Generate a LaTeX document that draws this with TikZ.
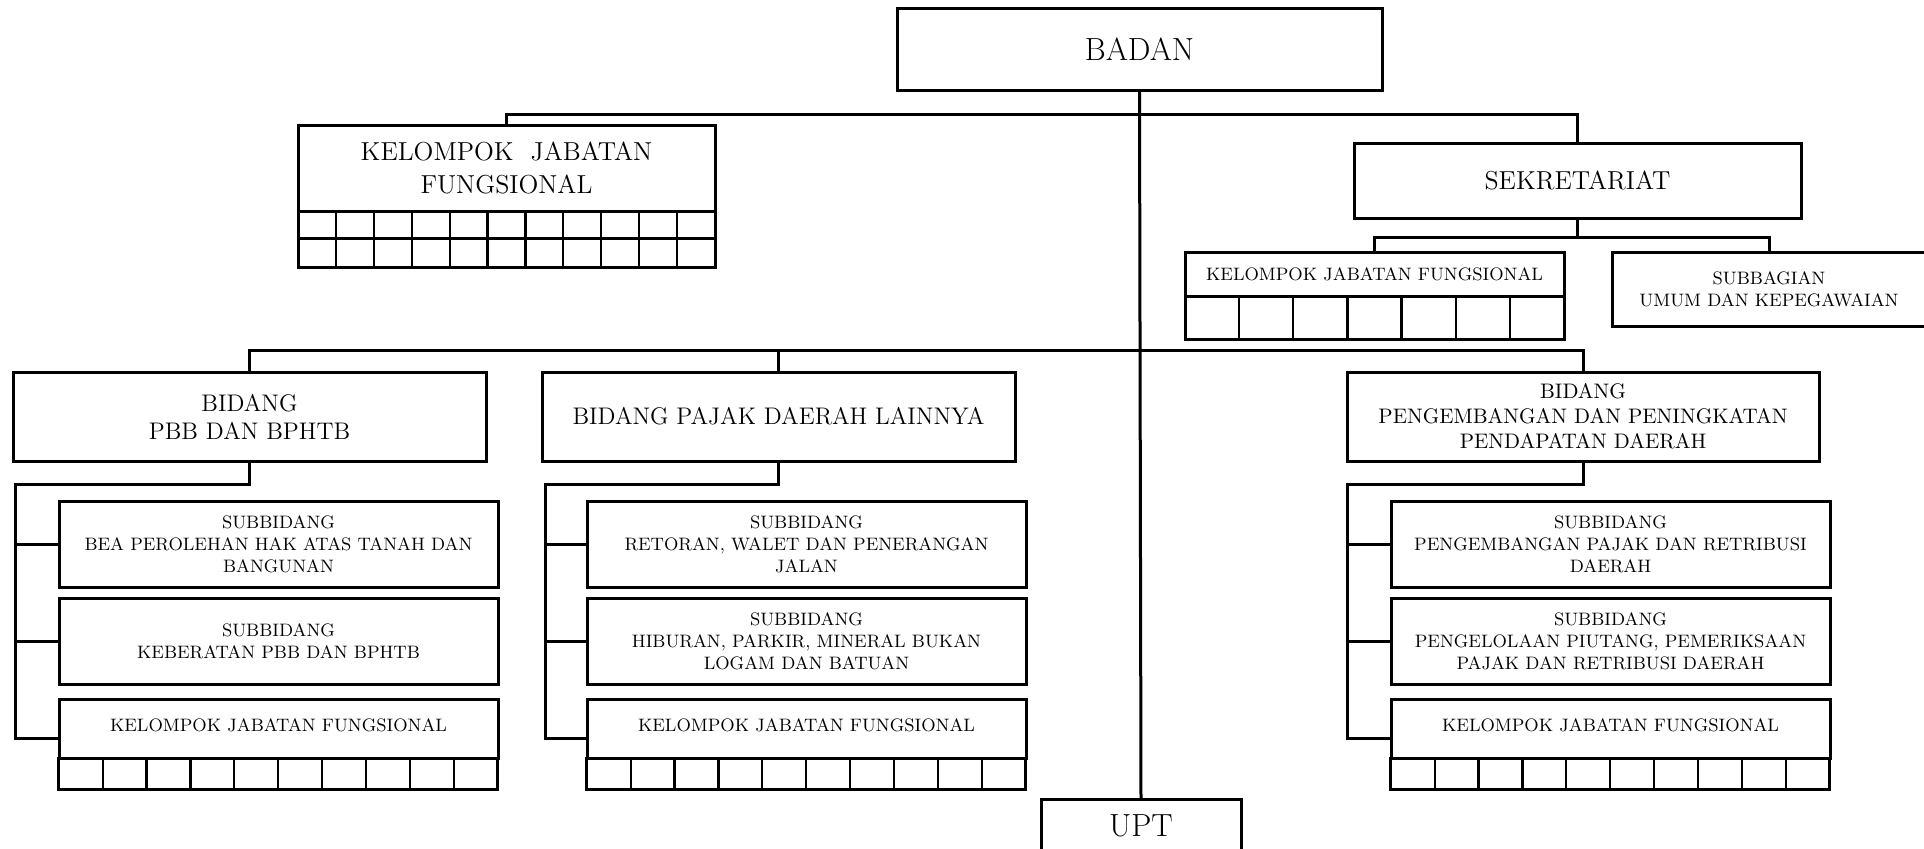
\documentclass[tikz,border=0pt]{standalone}
\usepackage{fontspec}
\usetikzlibrary{calc}
\newcommand\cellrow[5]{%
  \draw[framel] (#1,#2) rectangle ++(#3,#4);
  \foreach \k in {1,...,#5}{\draw[gridl] ({#1+\k*#3/#5},#2) -- ++(0,#4);}}
\begin{document}
\begin{tikzpicture}[x=0.5pt,y=-0.5pt,
  box/.style={draw,line width=1.5pt,inner sep=0pt,outer sep=0pt,align=center},
  conn/.style={line width=1.5pt},
  framel/.style={line width=1.5pt},
  gridl/.style={line width=1.1pt},
  fbig/.style={font=\fontsize{16}{19}\selectfont},
  fmid/.style={font=\fontsize{13}{16.5}\selectfont},
  fbid/.style={font=\fontsize{12}{14}\selectfont},
  fpeng/.style={font=\fontsize{10.5}{12.5}\selectfont},
  fsmall/.style={font=\fontsize{9}{11}\selectfont}]
\useasboundingbox (0,0) rectangle (1924,848);

% top level
\node[box,fbig,minimum width=242.5pt,minimum height=41pt] (badan) at (1139.5,49) {BADAN};
\node[box,fmid,minimum width=208.5pt,minimum height=43pt] (kjfa) at (506.5,168) {KELOMPOK\ \ JABATAN\\FUNGSIONAL};
\cellrow{298}{211}{417}{27}{11}
\cellrow{298}{238}{417}{29}{11}
\node[box,fmid,minimum width=223.5pt,minimum height=37.5pt] (sek) at (1577.5,180.5) {SEKRETARIAT};

% sekretariat children
\node[box,fsmall,minimum width=189.5pt,minimum height=22pt] (kjfb) at (1374.5,274) {KELOMPOK JABATAN FUNGSIONAL};
\cellrow{1185}{296}{379}{43}{7}
\node[box,fsmall,minimum width=157pt,minimum height=37pt] (subag) at (1769,289) {SUBBAGIAN\\UMUM DAN KEPEGAWAIAN};

% bidang
\node[box,fbid,minimum width=236.5pt,minimum height=44.5pt] (pbb) at (249.5,416.5) {BIDANG\\PBB DAN BPHTB};
\node[box,fbid,minimum width=236.5pt,minimum height=44.5pt] (pajak) at (778.5,416.5) {BIDANG PAJAK DAERAH LAINNYA};
\node[box,fpeng,minimum width=236pt,minimum height=44.5pt] (peng) at (1583,416.5) {BIDANG\\PENGEMBANGAN DAN PENINGKATAN\\PENDAPATAN DAERAH};

% subbidang PBB
\node[box,fsmall,minimum width=219.5pt,minimum height=43pt] (pbbs1) at (278.5,544) {SUBBIDANG\\BEA PEROLEHAN HAK ATAS TANAH DAN\\BANGUNAN};
\node[box,fsmall,minimum width=219.5pt,minimum height=43pt] (pbbs2) at (278.5,641) {SUBBIDANG\\KEBERATAN PBB DAN BPHTB};
\node[box,fsmall,minimum width=219.5pt,minimum height=29.5pt] (pbbk) at (278.5,728.5) {\raisebox{3pt}{KELOMPOK JABATAN FUNGSIONAL}};
\cellrow{58.75}{758}{439}{31}{10}

% subbidang pajak
\node[box,fsmall,minimum width=219.5pt,minimum height=43pt] (pajs1) at (806.5,544) {SUBBIDANG\\RETORAN, WALET DAN PENERANGAN\\JALAN};
\node[box,fsmall,minimum width=219.5pt,minimum height=43pt] (pajs2) at (806.5,641) {SUBBIDANG\\HIBURAN, PARKIR, MINERAL BUKAN\\LOGAM DAN BATUAN};
\node[box,fsmall,minimum width=219.5pt,minimum height=29.5pt] (pajk) at (806.5,728.5) {\raisebox{3pt}{KELOMPOK JABATAN FUNGSIONAL}};
\cellrow{586.75}{758}{439}{31}{10}

% subbidang pengembangan
\node[box,fsmall,minimum width=219.5pt,minimum height=43pt] (pengs1) at (1610.5,544) {SUBBIDANG\\PENGEMBANGAN PAJAK DAN RETRIBUSI\\DAERAH};
\node[box,fsmall,minimum width=219.5pt,minimum height=43pt] (pengs2) at (1610.5,641) {SUBBIDANG\\PENGELOLAAN PIUTANG, PEMERIKSAAN\\PAJAK DAN RETRIBUSI DAERAH};
\node[box,fsmall,minimum width=219.5pt,minimum height=29.5pt] (pengk) at (1610.5,728.5) {\raisebox{3pt}{KELOMPOK JABATAN FUNGSIONAL}};
\cellrow{1390.75}{758}{439}{31}{10}

% UPT
\node[box,fbig,minimum width=100pt,minimum height=26.5pt] (upt) at (1141,825.5) {UPT};

% connectors
\draw[conn] (badan.south) -- (upt.north);
\draw[conn] (kjfa.north) -- ++(0,-11) -| (sek.north);
\draw[conn] (sek.south) -- ++(0,19) coordinate (sekj);
\draw[conn] (kjfb.north) |- (sekj) -| (subag.north);
\draw[conn] (pbb.north) -- ++(0,-22) -| (peng.north);
\draw[conn] (pajak.north) -- ++(0,-22);

\draw[conn] (pbb.south) -- ++(0,23) -| ($(pbbk.south west)+(-44,-20)$) -- ($(pbbk.south west)+(0,-20)$);
\draw[conn] (pbbs1.west) -- ++(-44,0);
\draw[conn] (pbbs2.west) -- ++(-44,0);

\draw[conn] (pajak.south) -- ++(0,23) -| ($(pajk.south west)+(-42,-20)$) -- ($(pajk.south west)+(0,-20)$);
\draw[conn] (pajs1.west) -- ++(-42,0);
\draw[conn] (pajs2.west) -- ++(-42,0);

\draw[conn] (peng.south) -- ++(0,23) -| ($(pengk.south west)+(-44,-20)$) -- ($(pengk.south west)+(0,-20)$);
\draw[conn] (pengs1.west) -- ++(-44,0);
\draw[conn] (pengs2.west) -- ++(-44,0);
\end{tikzpicture}
\end{document}
